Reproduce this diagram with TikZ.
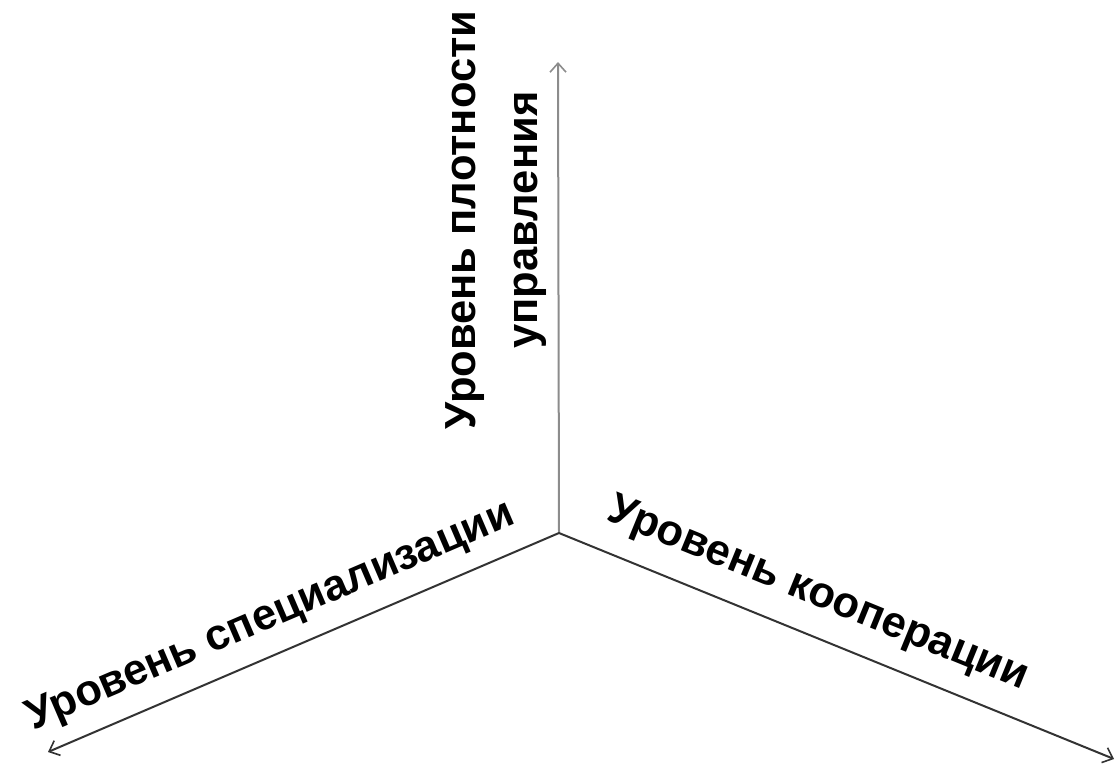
\documentclass[tikz,border=0pt]{standalone}
\usepackage{fontspec}
\setmainfont{Liberation Sans}
\usetikzlibrary{arrows.meta}
\begin{document}
\begin{tikzpicture}[x=1pt,y=-1pt,
  axis/.style={line width=2pt, -{Straight Barb[length=9pt,width=16pt,line width=1.6pt]}},
  lbl/.style={font=\fontsize{43.5}{62}\selectfont\bfseries, inner sep=0pt, align=center}]
\useasboundingbox (0,0) rectangle (1117,772);
\coordinate (O) at (559,533);
\coordinate (T) at (558,62);
\coordinate (L) at (48,752);
\coordinate (R) at (1114,759);
\draw[axis, draw=black!45] (O) -- (T);
\draw[axis, draw=black!80] (O) -- (L);
\draw[axis, draw=black!80] (O) -- (R);
\node[lbl, rotate=90] (vl) at (496,220) {Уровень плотности\\управления};
\node[lbl, rotate=23.2] (ll) at (271,617) {Уровень специализации};
\node[lbl, rotate=-22.2] (rl) at (818,595) {Уровень кооперации};
\end{tikzpicture}
\end{document}
